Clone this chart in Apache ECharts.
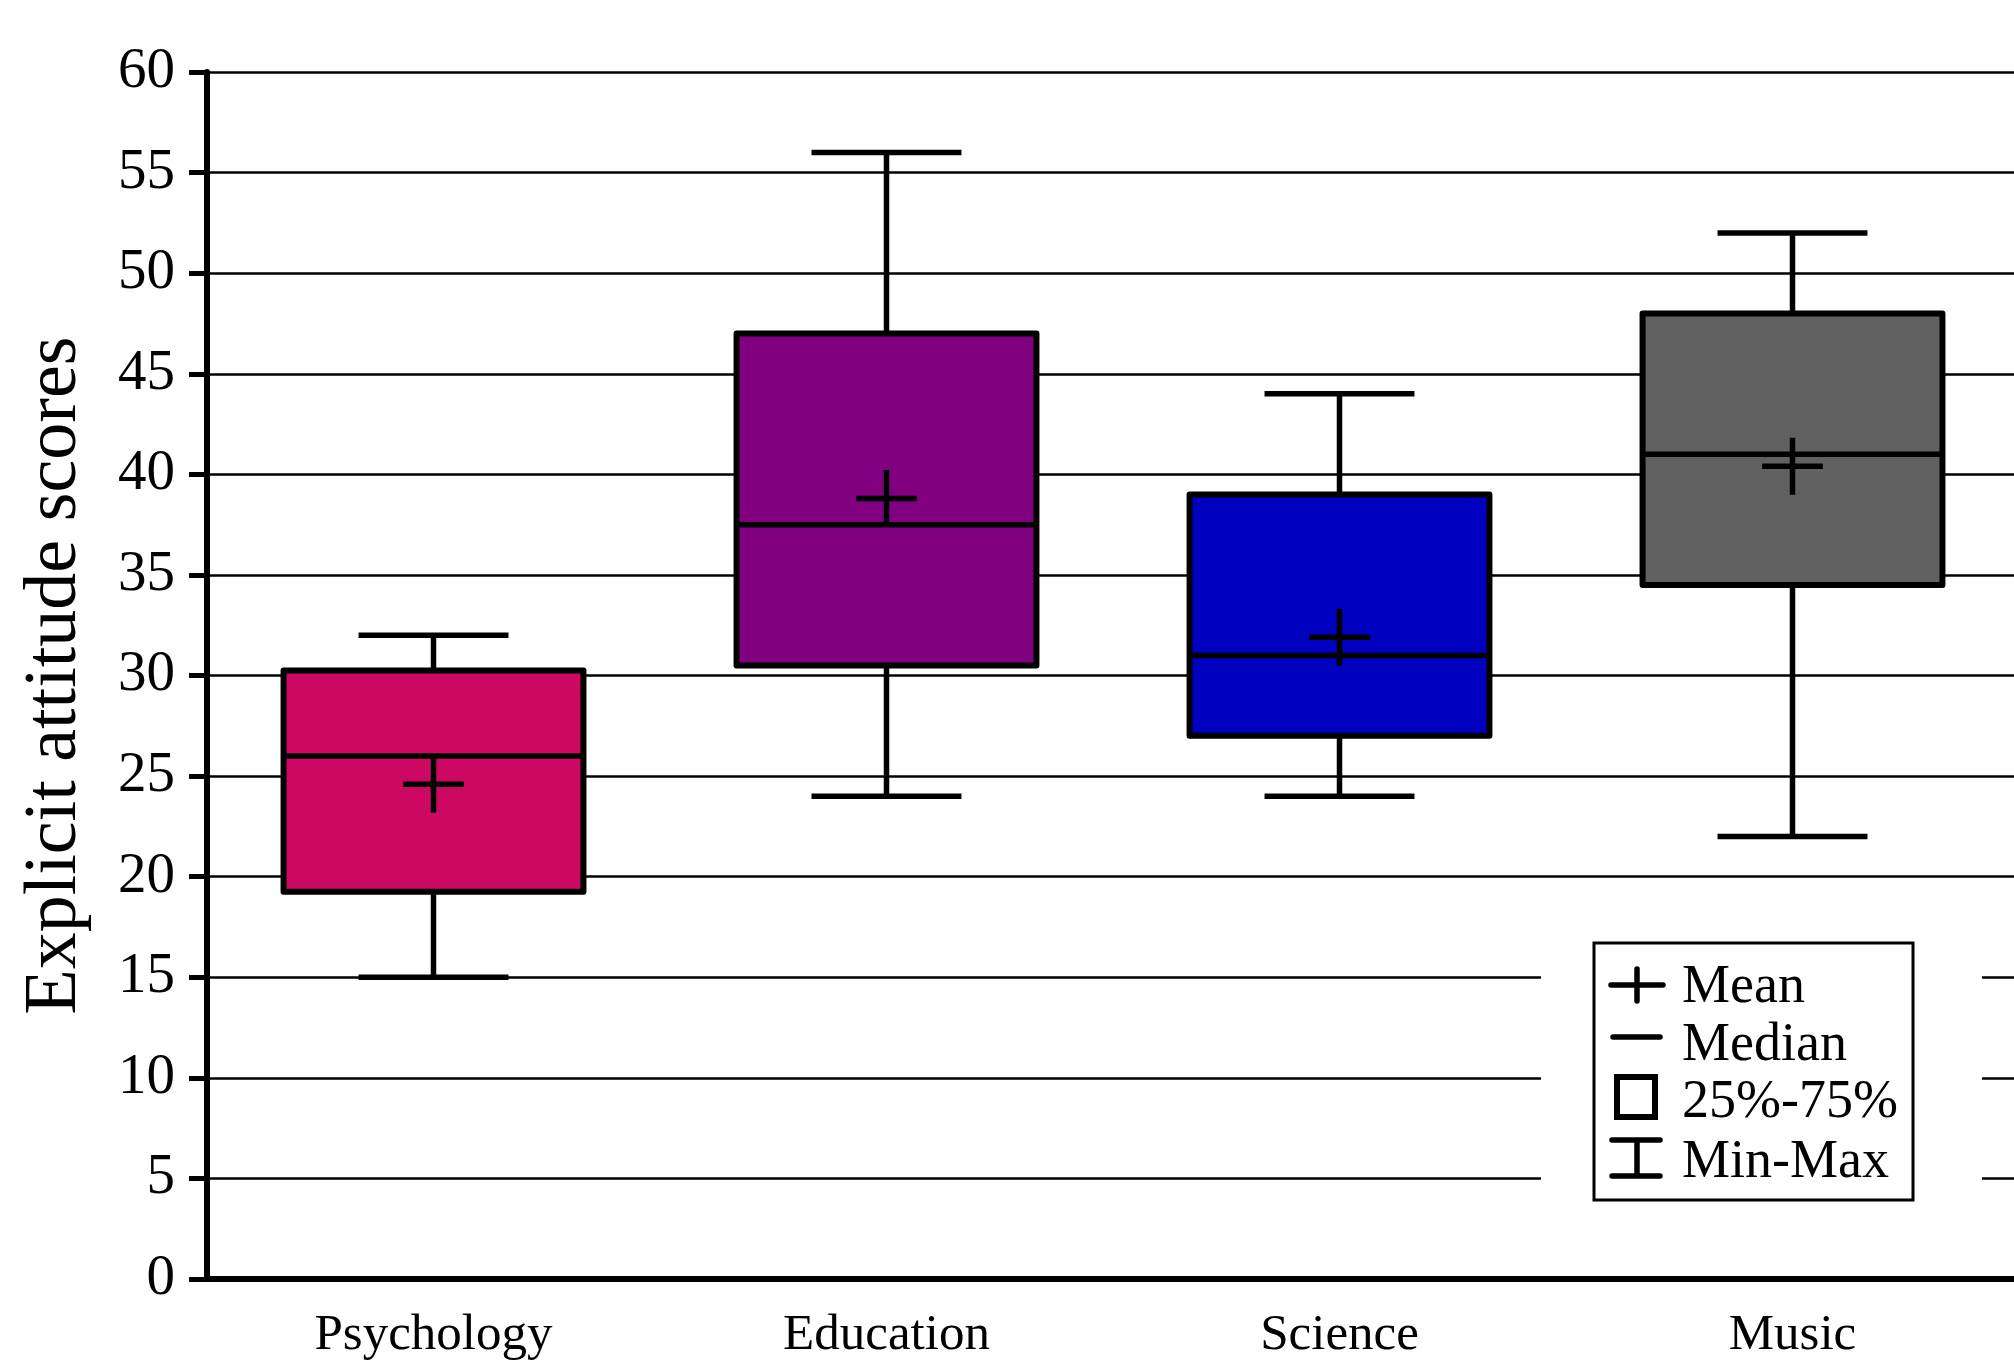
<!DOCTYPE html>
<html><head><meta charset="utf-8">
<script src="https://cdn.jsdelivr.net/npm/echarts@6/dist/echarts.min.js"></script>
<style>html,body{margin:0;padding:0;background:#fff;overflow:hidden}#c{width:2020px;height:1361px}</style>
</head><body><div id="c"></div>
<script>
const categories = ['Psychology', 'Education', 'Science', 'Music'];
const minVals    = [15, 24, 24, 22];
const q1Vals     = [19.25, 30.5, 27, 34.5];
const medianVals = [26, 37.5, 31, 41];
const q3Vals     = [30.25, 47, 39, 48];
const maxVals    = [32, 56, 44, 52];
const meanVals   = [24.6, 38.8, 31.9, 40.4];
const boxColors  = ['#CC0863', '#800080', '#0000C0', '#616161'];
const yName = 'Explicit attitude scores';
const legendLabels = ['Mean', 'Median', '25%-75%', 'Min-Max'];

const FONT = 'Liberation Serif';
const chart = echarts.init(document.getElementById('c'), null, {renderer: 'canvas'});

const data = categories.map((c, i) => [i, minVals[i], q1Vals[i], medianVals[i], q3Vals[i], maxVals[i], meanVals[i]]);

function renderItem(params, api) {
  const i = api.value(0);
  const band = api.size([1, 0])[0];
  const bw = band * 0.662, cw = band * 0.331, mw = band * 0.134, mh = 57;
  const pMin = api.coord([i, api.value(1)]);
  const pQ1 = api.coord([i, api.value(2)]);
  const pMed = api.coord([i, api.value(3)]);
  const pQ3 = api.coord([i, api.value(4)]);
  const pMax = api.coord([i, api.value(5)]);
  const pMean = api.coord([i, api.value(6)]);
  const x = pMin[0];
  const ls = {stroke: '#000', lineWidth: 5.5};
  return {
    type: 'group',
    children: [
      {type: 'line', shape: {x1: x, y1: pQ3[1], x2: x, y2: pMax[1]}, style: ls},
      {type: 'line', shape: {x1: x, y1: pQ1[1], x2: x, y2: pMin[1]}, style: ls},
      {type: 'line', shape: {x1: x - cw / 2, y1: pMax[1], x2: x + cw / 2, y2: pMax[1]}, style: ls},
      {type: 'line', shape: {x1: x - cw / 2, y1: pMin[1], x2: x + cw / 2, y2: pMin[1]}, style: ls},
      {type: 'rect', shape: {x: x - bw / 2, y: pQ3[1], width: bw, height: pQ1[1] - pQ3[1]},
        style: {fill: boxColors[i], stroke: '#000', lineWidth: 6, lineJoin: 'round'}},
      {type: 'line', shape: {x1: x - bw / 2, y1: pMed[1], x2: x + bw / 2, y2: pMed[1]}, style: ls},
      {type: 'line', shape: {x1: x - mw / 2, y1: pMean[1], x2: x + mw / 2, y2: pMean[1]}, style: ls},
      {type: 'line', shape: {x1: x, y1: pMean[1] - mh / 2, x2: x, y2: pMean[1] + mh / 2}, style: ls}
    ]
  };
}

const L = 1682;
const legendGraphic = [
  {type: 'rect', z: 10, shape: {x: 1541, y: 905, width: 441, height: 335}, style: {fill: '#fff'}},
  {type: 'rect', z: 11, shape: {x: 1594, y: 943, width: 319, height: 257}, style: {fill: '#fff', stroke: '#000', lineWidth: 3}},
  {type: 'line', z: 12, shape: {x1: 1611, y1: 985, x2: 1663, y2: 985}, style: {stroke: '#000', lineWidth: 5.5, lineCap: 'round'}},
  {type: 'line', z: 12, shape: {x1: 1637, y1: 969, x2: 1637, y2: 1001}, style: {stroke: '#000', lineWidth: 5.5, lineCap: 'round'}},
  {type: 'line', z: 12, shape: {x1: 1613, y1: 1037, x2: 1660, y2: 1037}, style: {stroke: '#000', lineWidth: 5.5, lineCap: 'round'}},
  {type: 'rect', z: 12, shape: {x: 1617, y: 1077, width: 38, height: 40}, style: {fill: 'none', stroke: '#000', lineWidth: 6}},
  {type: 'line', z: 12, shape: {x1: 1612, y1: 1140, x2: 1660, y2: 1140}, style: {stroke: '#000', lineWidth: 5.5, lineCap: 'round'}},
  {type: 'line', z: 12, shape: {x1: 1612, y1: 1176, x2: 1660, y2: 1176}, style: {stroke: '#000', lineWidth: 5.5, lineCap: 'round'}},
  {type: 'line', z: 12, shape: {x1: 1637, y1: 1140, x2: 1637, y2: 1176}, style: {stroke: '#000', lineWidth: 5.5}}
];
const legendY = [988, 1046, 1103, 1163];
legendLabels.forEach((t, k) => {
  legendGraphic.push({type: 'text', z: 12, x: L, y: legendY[k],
    style: {text: t, font: '54px "' + FONT + '"', fill: '#000', verticalAlign: 'middle', align: 'left'}});
});

chart.setOption({
  backgroundColor: '#fff',
  animation: false,
  grid: {left: 207, top: 72, width: 1812, height: 1208},
  xAxis: {
    type: 'category', data: categories,
    axisLine: {lineStyle: {color: '#000', width: 6}},
    axisTick: {alignWithLabel: true, length: 18, lineStyle: {color: '#000', width: 5}},
    axisLabel: {color: '#000', fontFamily: FONT, fontSize: 51, margin: 31},
    splitLine: {show: false}
  },
  yAxis: {
    type: 'value', min: 0, max: 60, interval: 5,
    name: yName, nameLocation: 'middle', nameRotate: 90, nameGap: 114,
    nameTextStyle: {color: '#000', fontFamily: FONT, fontSize: 74},
    axisLine: {show: true, lineStyle: {color: '#000', width: 6}},
    axisTick: {show: true, length: 18, lineStyle: {color: '#000', width: 5}},
    axisLabel: {color: '#000', fontFamily: FONT, fontSize: 57, margin: 32},
    splitLine: {show: true, lineStyle: {color: '#000', width: 2.5}}
  },
  graphic: legendGraphic,
  series: [{type: 'custom', renderItem: renderItem, data: data, z: 5}]
});
</script></body></html>
